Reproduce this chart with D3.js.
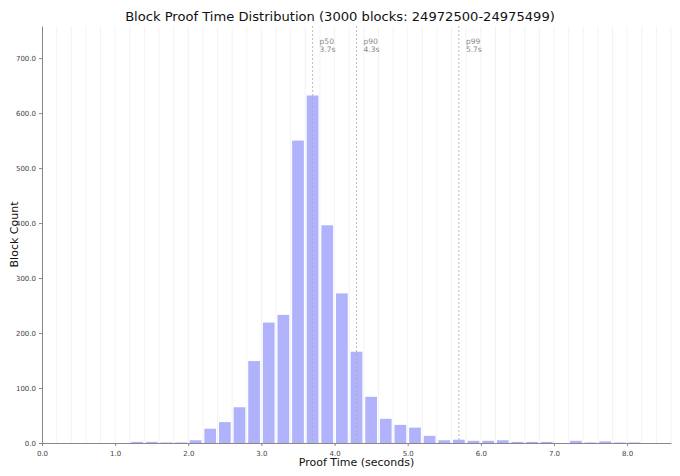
<html>
<head>
<meta charset="utf-8">
<script src="https://cdnjs.cloudflare.com/ajax/libs/d3/7.8.5/d3.min.js"></script>
<style>
  body { margin: 0; background: #fff; }
  text { font-family: "DejaVu Sans", sans-serif; }
</style>
</head>
<body>
<div id="chart"></div>
<script>
// histogram bins, 0.2 s wide (bin start in seconds)
var binStarts = [1.2, 1.4, 1.6, 1.8, 2.0, 2.2, 2.4, 2.6, 2.8, 3.0, 3.2, 3.4, 3.6, 3.8, 4.0, 4.2, 4.4, 4.6, 4.8, 5.0, 5.2, 5.4, 5.6, 5.8, 6.0, 6.2, 6.4, 6.6, 6.8, 7.0, 7.2, 7.4, 7.6, 7.8, 8.0];
var counts    = [2,   2,   1,   1,   5,   26,  38,  65,  149, 219, 233, 550, 632, 396, 272, 166, 84,  44,  33,  28,  13,  5,   6,   4,   4,   5,   2,   2,   2,   0,   4,   1,   3,   1,   1];
var binWidth = 0.2;

// percentile markers
var pctNames  = ["p50", "p90", "p99"];
var pctValues = [3.7, 4.3, 5.7];

var xTicks = [0, 1, 2, 3, 4, 5, 6, 7, 8];
var yTicks = [0, 100, 200, 300, 400, 500, 600, 700];

var W = 680, H = 476;
var margin = {left: 42, right: 9, top: 26, bottom: 33};

var svg = d3.select("#chart").append("svg")
    .attr("width", W)
    .attr("height", H);

var x = d3.scaleLinear()
    .domain([0, 8.6])
    .range([margin.left, W - margin.right]);

var y = d3.scaleLinear()
    .domain([0, d3.max(counts) * 1.2])
    .range([H - margin.bottom, margin.top]);

// light vertical grid every bin edge
var gridVals = d3.range(0.2, 8.61, 0.2);
svg.append("g").selectAll("line")
    .data(gridVals)
    .enter()
    .append("line")
    .attr("x1", function (d) { return x(d); })
    .attr("x2", function (d) { return x(d); })
    .attr("y1", y.range()[1])
    .attr("y2", y.range()[0])
    .style("stroke", "#f0f0f0")
    .style("stroke-width", 0.8);

// bars
var bins = binStarts.map(function (s, i) { return {x0: s, n: counts[i]}; });
var gap = 0.1; // fraction of bin left empty on each side
svg.append("g").selectAll("rect")
    .data(bins)
    .enter()
    .append("rect")
    .attr("x", function (d) { return x(d.x0 + binWidth * gap); })
    .attr("width", function (d) { return x(d.x0 + binWidth * (1 - gap)) - x(d.x0 + binWidth * gap); })
    .attr("y", function (d) { return y(d.n); })
    .attr("height", function (d) { return y(0) - y(d.n); })
    .style("fill", "#b0b2fb");

// percentile lines + labels
var pct = svg.append("g").selectAll("g")
    .data(pctNames.map(function (n, i) { return {name: n, v: pctValues[i]}; }))
    .enter()
    .append("g");

pct.append("line")
    .attr("x1", function (d) { return x(d.v); })
    .attr("x2", function (d) { return x(d.v); })
    .attr("y1", y.range()[1])
    .attr("y2", y.range()[0])
    .style("stroke", "#aaaaaa")
    .style("stroke-width", 0.8)
    .style("stroke-dasharray", "2,2");

pct.append("text")
    .attr("x", function (d) { return x(d.v) + 7; })
    .attr("y", 44)
    .style("font-size", "7.5px")
    .style("fill", "#888")
    .text(function (d) { return d.name; });

pct.append("text")
    .attr("x", function (d) { return x(d.v) + 7; })
    .attr("y", 52)
    .style("font-size", "7.5px")
    .style("fill", "#888")
    .text(function (d) { return d.v.toFixed(1) + "s"; });

// axes
var xAxis = svg.append("g")
    .attr("transform", "translate(0," + y(0) + ")")
    .call(d3.axisBottom(x).tickValues(xTicks).tickFormat(d3.format(".1f")).tickSize(3).tickSizeOuter(0));

var yAxis = svg.append("g")
    .attr("transform", "translate(" + margin.left + ",0)")
    .call(d3.axisLeft(y).tickValues(yTicks).tickFormat(d3.format(".1f")).tickSize(3).tickSizeOuter(0));

[xAxis, yAxis].forEach(function (a) {
  a.select(".domain").style("stroke", "#888");
  a.selectAll(".tick line").style("stroke", "#888");
  a.selectAll(".tick text")
      .style("font-family", "DejaVu Sans, sans-serif")
      .style("font-size", "7px")
      .style("fill", "#444");
});
xAxis.selectAll(".tick text").attr("dy", "1.0em");

// title
svg.append("text")
    .attr("x", W / 2)
    .attr("y", 21)
    .style("text-anchor", "middle")
    .style("font-size", "13.1px")
    .style("fill", "#111")
    .text("Block Proof Time Distribution (3000 blocks: 24972500-24975499)");

// axis titles
svg.append("text")
    .attr("x", (x.range()[0] + x.range()[1]) / 2)
    .attr("y", 466)
    .style("text-anchor", "middle")
    .style("font-size", "11px")
    .style("fill", "#111")
    .text("Proof Time (seconds)");

svg.append("text")
    .attr("transform", "translate(18," + ((y.range()[0] + y.range()[1]) / 2) + ") rotate(-90)")
    .style("text-anchor", "middle")
    .style("font-size", "11px")
    .style("fill", "#111")
    .text("Block Count");
</script>
</body>
</html>
